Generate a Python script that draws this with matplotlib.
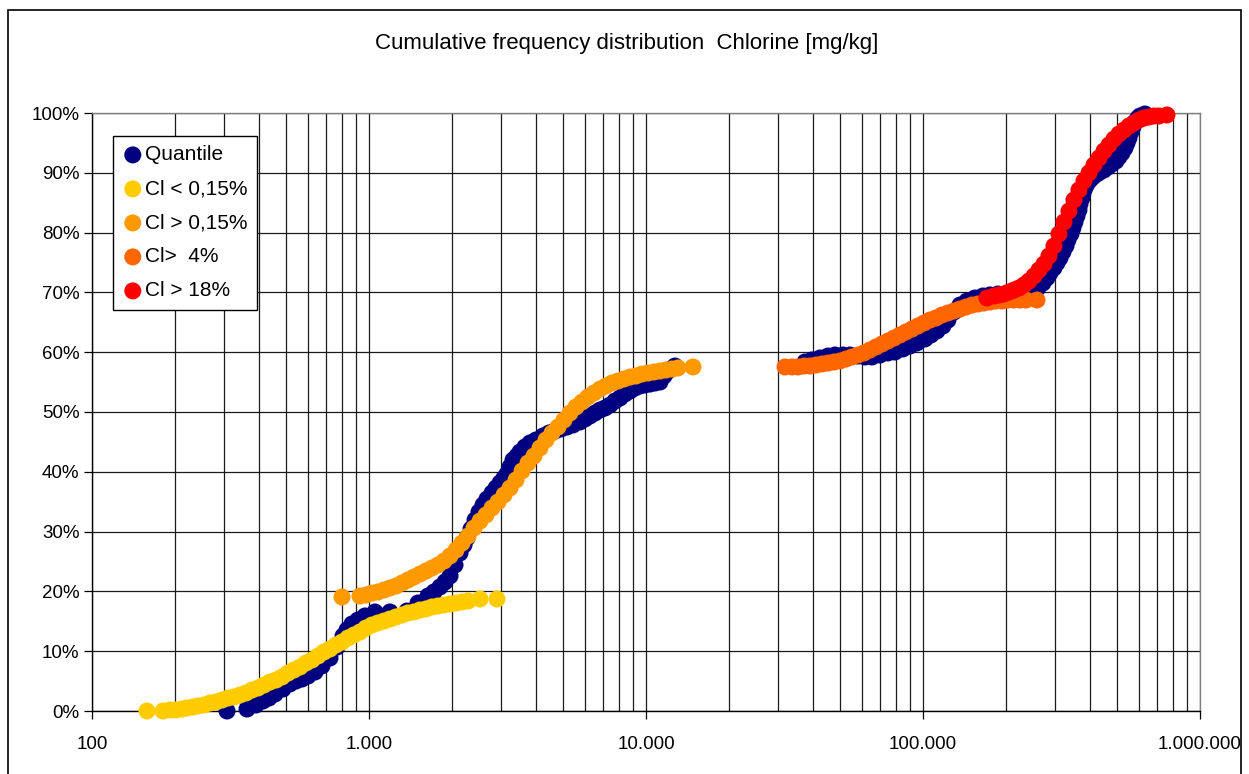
import matplotlib
matplotlib.use("Agg")
import matplotlib.pyplot as plt
from matplotlib.ticker import FixedLocator, NullFormatter
from matplotlib.patches import Rectangle

plt.rcParams['font.family'] = ['Liberation Sans', 'DejaVu Sans']

# ---------------- data ----------------
quantile_x = [307.2, 362.7, 390.9, 414.3, 435.5, 457.8, 489.2, 518.5, 545.2, 573.0,
              602.3, 638.4, 676.6, 723.2, 766.5, 805.7, 832.8, 868.1, 912.5, 967.1,
              1051, 1190, 1371, 1503, 1633, 1716, 1804, 1881, 1961, 2044, 2131, 2203,
              2259, 2335, 2414, 2495, 2580, 2667, 2780, 2874, 2971, 3071, 3149, 3228,
              3310, 3422, 3508, 3657, 3812, 4007, 4247, 4465, 4693, 4933, 5185, 5450,
              5777, 6022, 6277, 6544, 6823, 7112, 7414, 7729, 8057, 8398, 8755, 9126,
              9513, 9917, 10338, 10777, 11234, 11613, 11907, 12309, 12725,
              37496, 39741, 42473, 45393, 48112, 51419, 54500, 58246, 61734, 65432,
              69930, 74737, 79214, 84665, 89735, 95110, 101648, 106845, 112306, 118050,
              123058, 129349, 135962, 144105, 154010, 164600, 174457, 186530, 197700,
              211290, 223940, 237350, 249490, 260070, 271120, 280230, 287300, 297010,
              304510, 312200, 320080, 328150, 333660, 342070, 347810, 353640, 359570,
              365590, 368640, 374820, 377950, 384280, 390720, 400590, 410710, 424770,
              435500, 450220, 465430, 481160, 497420, 509980, 522860, 536060, 545040,
              554180, 563460, 572900, 582500, 597210, 607220, 632980]
quantile_y = [0.0, 0.33, 1.00, 1.67, 2.17, 2.84, 3.68, 4.52, 5.02, 5.35,
              5.85, 6.52, 7.53, 8.86, 10.70, 12.54, 13.55, 14.55, 15.22, 15.89,
              16.56, 16.56, 16.72, 18.06, 19.23, 19.90, 20.74, 21.57, 22.58, 24.41, 26.42, 27.76,
              28.93, 30.43, 31.94, 33.28, 34.45, 35.45, 36.45, 37.29, 38.13, 38.96, 39.63, 40.80,
              41.97, 42.64, 43.31, 44.15, 44.82, 45.32, 45.99, 46.49, 46.82, 47.16, 47.49, 47.83,
              48.33, 48.83, 49.33, 49.83, 50.33, 50.67, 51.17, 51.84, 52.34, 53.01, 53.51, 54.01,
              54.35, 54.52, 54.68, 54.85, 55.02, 56.02, 56.69, 57.19, 57.69,
              58.36, 58.70, 59.03, 59.36, 59.53, 59.53, 59.53, 59.36, 59.20, 59.20,
              59.53, 59.87, 60.03, 60.54, 61.04, 61.54, 62.21, 62.88, 63.55, 64.38,
              65.38, 66.72, 67.89, 68.56, 69.06, 69.40, 69.57, 69.73, 69.73,
              69.73, 69.73, 69.90, 70.07, 70.74, 71.57, 72.41, 73.24, 74.08,
              74.92, 75.75, 76.76, 77.76, 78.76, 79.77, 80.77, 81.77, 82.78,
              83.78, 84.78, 85.79, 86.62, 87.46, 88.13, 88.80, 89.30, 89.80,
              90.13, 90.47, 90.97, 91.47, 91.97, 92.64, 93.31, 94.15, 94.98,
              95.82, 96.82, 97.66, 98.49, 99.16, 99.50, 99.83]

low_x = [157.9, 180.4, 191.2, 200.9, 211.2, 220.2, 231.6, 241.5, 253.8, 266.8, 280.4,
         294.7, 309.8, 325.7, 342.3, 359.7, 378.1, 397.5, 417.8, 439.1, 461.6, 485.2,
         510.0, 536.1, 563.6, 592.4, 622.7, 654.5, 688.0, 723.2, 760.1, 799.0, 839.7,
         882.7, 927.8, 975.2, 1025, 1077, 1133, 1190, 1251, 1316, 1383, 1454, 1528,
         1606, 1688, 1774, 1865, 1961, 2061, 2167, 2277, 2516, 2898]
low_y = [0.0, 0.0, 0.17, 0.17, 0.33, 0.50, 0.67, 0.84, 1.00, 1.34, 1.51,
         1.84, 2.17, 2.34, 2.68, 3.01, 3.51, 3.85, 4.35, 4.85, 5.18, 5.69,
         6.35, 6.86, 7.36, 8.03, 8.53, 9.20, 9.87, 10.37, 11.04, 11.54, 12.21,
         12.71, 13.21, 13.88, 14.38, 14.72, 15.05, 15.38, 15.72, 16.05, 16.39, 16.56, 16.89,
         17.06, 17.39, 17.56, 17.73, 17.89, 18.06, 18.23, 18.39, 18.73, 18.73]

high_x = [799.0, 927.8, 975.2, 1025, 1077, 1133, 1190, 1251, 1316, 1383, 1454, 1528,
          1606, 1688, 1774, 1865, 1961, 2061, 2167, 2277, 2394, 2516, 2645, 2780, 2922,
          3071, 3228, 3393, 3567, 3749, 3941, 4142, 4354, 4577, 4811, 5057, 5316, 5588,
          5873, 6174, 6489, 6823, 7172, 7538, 7924, 8329, 8755, 9202, 9672, 10168,
          10687, 11234, 11808, 12412, 13046, 14777]
high_y = [19.06, 19.23, 19.40, 19.73, 19.90, 20.23, 20.57, 20.90, 21.40, 21.91, 22.41, 22.91,
          23.41, 23.91, 24.41, 25.08, 25.92, 26.92, 28.09, 29.26, 30.60, 31.77, 32.78, 33.95, 34.95,
          36.12, 37.29, 38.63, 40.13, 41.47, 42.64, 43.98, 45.32, 46.49, 47.49, 48.66, 49.83, 50.84,
          51.67, 52.51, 53.18, 53.85, 54.35, 54.85, 55.18, 55.52, 55.85, 56.02, 56.35, 56.52,
          56.69, 56.86, 57.02, 57.19, 57.36, 57.53]

cl4_x = [31755, 33657, 35377, 37185, 39086, 41085, 43185, 45393, 47713, 50153, 52717,
         55413, 58246, 61224, 64353, 67644, 71102, 74737, 78558, 82580, 86802, 91238,
         95903, 100806, 105960, 111377, 117072, 123058, 129349, 135962, 142913, 150219,
         157899, 165972, 174457, 183376, 192830, 202690, 213050, 223940, 235390, 257920]
cl4_y = [57.53, 57.53, 57.53, 57.69, 57.69, 57.86, 58.03, 58.19, 58.36, 58.53, 58.86,
         59.20, 59.53, 59.87, 60.37, 60.87, 61.37, 61.87, 62.37, 62.88, 63.38, 63.88,
         64.38, 64.88, 65.38, 65.72, 66.22, 66.56, 66.89, 67.22, 67.56, 67.89,
         68.06, 68.23, 68.39, 68.56, 68.56, 68.73, 68.73, 68.73, 68.73, 68.73]

cl18_x = [170230, 180430, 188080, 196060, 204380, 213050, 222090, 231510, 241330,
          251570, 262240, 273370, 284920, 297010, 309610, 322750, 336440, 350710,
          365590, 381100, 397270, 414120, 431890, 450220, 469320, 489230, 509980,
          531620, 554180, 577690, 602200, 627740, 654340, 682100, 711040, 759900]
cl18_y = [69.06, 69.40, 69.57, 69.73, 70.07, 70.40, 70.74, 71.24, 71.91,
          72.74, 73.75, 74.75, 76.09, 77.76, 79.77, 81.77, 83.61, 85.45,
          87.12, 88.63, 89.97, 91.30, 92.47, 93.65, 94.65, 95.65, 96.49,
          97.16, 97.83, 98.33, 98.83, 99.16, 99.33, 99.50, 99.50, 99.67]

series_labels = ["Quantile", "Cl < 0,15%", "Cl > 0,15%", "Cl>  4%", "Cl > 18%"]
series_colors = ["#000080", "#FFCC00", "#FF9900", "#FF6600", "#FF0000"]

x_ticks = [100, 1000, 10000, 100000, 1000000]
x_tick_labels = ["100", "1.000", "10.000", "100.000", "1.000.000"]
y_ticks = list(range(0, 101, 10))
y_tick_labels = [f"{v}%" for v in y_ticks]

title = "Cumulative frequency distribution  Chlorine [mg/kg]"

# ---------------- figure ----------------
W, H = 1249, 774
fig = plt.figure(figsize=(W / 100, H / 100), dpi=100)
ax = fig.add_axes([92 / W, (H - 711) / H, (1200 - 92) / W, (711 - 113) / H])

ax.set_xscale('log')
ax.set_xlim(100, 1000000)
ax.set_ylim(0, 100)

minor = []
for dec in [100, 1000, 10000, 100000]:
    for m in range(2, 10):
        minor.append(dec * m)
ax.xaxis.set_major_locator(FixedLocator(x_ticks))
ax.xaxis.set_minor_locator(FixedLocator(minor))
ax.xaxis.set_minor_formatter(NullFormatter())
ax.set_xticklabels(x_tick_labels)
ax.set_yticks(y_ticks)
ax.set_yticklabels(y_tick_labels)

ax.grid(True, which='major', axis='both', color='#1a1a1a', lw=0.9)
ax.grid(True, which='minor', axis='x', color='#1a1a1a', lw=0.9)
ax.set_axisbelow(True)

ax.tick_params(axis='x', which='major', direction='out', length=6, width=0.9,
               labelsize=13.5, pad=12, colors='black')
ax.tick_params(axis='x', which='minor', length=0)
ax.tick_params(axis='y', which='major', direction='out', length=6, width=0.9,
               labelsize=13.5, pad=3)

for s in ['left', 'bottom']:
    ax.spines[s].set_color('black')
    ax.spines[s].set_linewidth(1.0)
for s in ['top', 'right']:
    ax.spines[s].set_color('#808080')
    ax.spines[s].set_linewidth(1.0)

msize = 150
data = [(quantile_x, quantile_y), (low_x, low_y), (high_x, high_y),
        (cl4_x, cl4_y), (cl18_x, cl18_y)]
for (xs, ys), lab, col in zip(data, series_labels, series_colors):
    ax.scatter(xs, ys, s=msize, color=col, edgecolors='none', label=lab,
               zorder=3, clip_on=False)

leg = ax.legend(loc='upper left', bbox_to_anchor=(113 / W, 1 - 136 / H),
                bbox_transform=fig.transFigure, borderaxespad=0,
                fontsize=15, frameon=True, fancybox=False, edgecolor='black',
                framealpha=1, handletextpad=0.1, labelspacing=0.72,
                borderpad=0.45, handlelength=1.0, markerscale=1.0)
leg.get_frame().set_linewidth(1.0)

fig.text(627 / W, 1 - 44 / H, title, ha='center', va='center', fontsize=16)

fig.patches.append(Rectangle((8 / W, -0.02), (1241 - 8) / W, 1.02 - 10 / H,
                             transform=fig.transFigure, fill=False,
                             edgecolor='black', lw=1.2))

fig.savefig("out.png", dpi=100)
